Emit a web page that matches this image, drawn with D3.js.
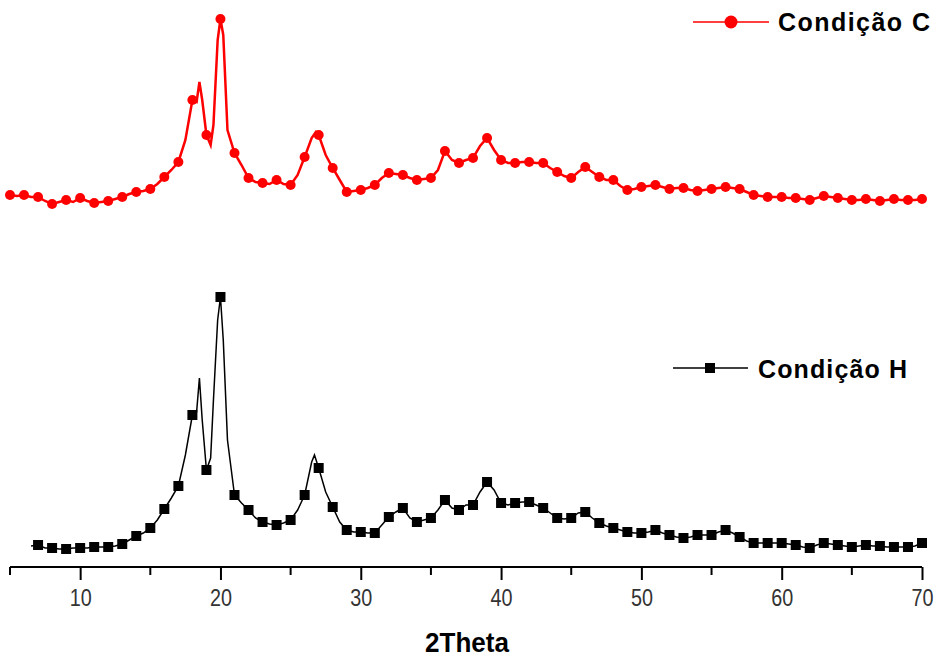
<!DOCTYPE html>
<html>
<head>
<meta charset="utf-8">
<script src="https://cdn.jsdelivr.net/npm/d3@7"></script>
<style>
  body { margin: 0; background: #fff; }
</style>
</head>
<body>
<script>
// 2Theta positions and intensities (a.u.) for each condition
var thetaH = [6.5,7,7.5,8,8.5,9,9.5,10,10.5,11,11.5,12,12.5,13,13.5,14,14.5,15,15.5,16,16.5,17,17.5,18,18.3,18.5,18.7,19,19.3,19.5,19.8,20,20.2,20.5,21,21.5,22,22.5,23,23.5,24,24.5,25,25.5,26,26.5,26.7,27,27.5,28,28.5,29,29.5,30,30.5,31,31.5,32,32.5,33,33.5,34,34.5,35,35.5,36,36.5,37,37.5,38,38.5,39,39.5,40,40.5,41,41.5,42,42.5,43,43.5,44,44.5,45,45.5,46,46.5,47,47.5,48,48.5,49,49.5,50,50.5,51,51.5,52,52.5,53,53.5,54,54.5,55,55.5,56,56.5,57,57.5,58,58.5,59,59.5,60,60.5,61,61.5,62,62.5,63,63.5,64,64.5,65,65.5,66,66.5,67,67.5,68,68.5,69,69.5,70];
var intH = [21,22,19,19,18,18,19,19,19,20,20,20,21,23,27,31,34,39,47,58,69,81,112,152,155,189,147,97,109,167,247,270,227,127,72,64,57,49,45,43,42,44,47,57,72,105,112,99,75,60,45,37,35,35,34,34,42,50,55,59,49,45,47,49,57,67,59,57,62,62,75,85,77,64,62,64,65,65,62,59,54,49,48,49,54,55,49,44,41,39,37,35,34,34,35,37,34,32,30,29,30,32,32,32,35,37,34,30,26,24,24,24,24,24,23,22,20,19,22,24,23,22,21,20,21,22,21,21,20,20,20,20,21,24];

var thetaC = [5,5.5,6,6.5,7,7.5,8,8.5,9,9.5,10,10.5,11,11.5,12,12.5,13,13.5,14,14.5,15,15.5,16,16.5,17,17.5,18,18.3,18.5,18.7,19,19.3,19.5,19.8,20,20.2,20.5,21,21.5,22,22.5,23,23.5,24,24.5,25,25.5,26,26.5,26.8,27,27.5,28,28.5,29,29.5,30,30.5,31,31.5,32,32.5,33,33.5,34,34.5,35,35.5,36,36.5,37,37.5,38,38.5,39,39.5,40,40.5,41,41.5,42,42.5,43,43.5,44,44.5,45,45.5,46,46.5,47,47.5,48,48.5,49,49.5,50,50.5,51,51.5,52,52.5,53,53.5,54,54.5,55,55.5,56,56.5,57,57.5,58,58.5,59,59.5,60,60.5,61,61.5,62,62.5,63,63.5,64,64.5,65,65.5,66,66.5,67,67.5,68,68.5,69,69.5,70];
var intC = [22,21,22,20,20,16,13,15,17,15,19,16,14,15,16,18,20,23,25,26,28,33,40,47,55,77,117,115,135,117,82,72,92,177,198,182,87,64,52,39,35,34,33,37,33,32,42,60,79,85,82,62,49,37,25,26,27,29,32,39,44,43,42,39,37,38,39,47,66,57,54,57,59,71,79,67,57,54,54,55,55,54,54,49,45,41,39,45,50,45,40,37,37,31,27,28,30,31,32,30,28,29,29,27,26,27,28,29,30,29,28,25,22,21,20,20,20,19,19,18,17,19,21,20,19,18,17,17,18,17,16,17,18,17,17,17,18];

var offsetC = 350;   // vertical shift of the stacked pattern C
var xTicks = [10,20,30,40,50,60,70];
var minorTicks = [5,15,25,35,45,55,65];
var seriesNames = ["Condição C", "Condição H"];

var width = 941, height = 662;
var margin = {left: 10, right: 19, top: 17, bottom: 95};

var svg = d3.select("body").append("svg")
    .attr("width", width)
    .attr("height", height);

var x = d3.scaleLinear().domain([5, 70]).range([margin.left, width - margin.right]);
var y = d3.scaleLinear().domain([0, 550]).range([height - margin.bottom, margin.top]);

var dataH = thetaH.map(function (t, i) { return {t: t, v: intH[i]}; });
var dataC = thetaC.map(function (t, i) { return {t: t, v: intC[i] + offsetC}; });

var line = d3.line()
    .x(function (d) { return x(d.t); })
    .y(function (d) { return y(d.v); });

// x axis
var axis = svg.append("g")
    .attr("transform", "translate(0," + y(0) + ")")
    .call(d3.axisBottom(x).tickValues(xTicks).tickSize(13).tickFormat(d3.format("d")));
axis.select(".domain").attr("stroke-width", 2).attr("d", "M" + x(5) + ",0H" + x(70));
axis.selectAll(".tick line").attr("stroke-width", 2);
axis.selectAll(".tick text")
    .attr("y", 39).attr("dy", 0)
    .attr("transform", "scale(0.86,1)")
    .attr("font-family", "'Liberation Sans', Arial, sans-serif")
    .attr("font-size", 23)
    .attr("fill", "#333");

// minor ticks
svg.append("g").selectAll("line")
    .data(minorTicks)
    .enter().append("line")
    .attr("x1", function (d) { return x(d); })
    .attr("x2", function (d) { return x(d); })
    .attr("y1", y(0))
    .attr("y2", y(0) + 8)
    .attr("stroke", "#000")
    .attr("stroke-width", 2);

svg.append("text")
    .attr("x", 425)
    .attr("y", 652)
    .attr("font-family", "'Liberation Sans', Arial, sans-serif")
    .attr("font-weight", "bold")
    .attr("font-size", 27)
    .attr("textLength", 84).attr("lengthAdjust", "spacingAndGlyphs")
    .text("2Theta");

// pattern C (red)
svg.append("path")
    .datum(dataC)
    .attr("fill", "none")
    .attr("stroke", "#ff0000")
    .attr("stroke-width", 2.5)
    .attr("d", line);

svg.selectAll(".dotC")
    .data(dataC.filter(function (d) { return Number.isInteger(d.t); }))
    .enter().append("circle")
    .attr("class", "dotC")
    .attr("cx", function (d) { return x(d.t); })
    .attr("cy", function (d) { return y(d.v); })
    .attr("r", 5)
    .attr("fill", "#ff0000");

// pattern H (black)
svg.append("path")
    .datum(dataH)
    .attr("fill", "none")
    .attr("stroke", "#000")
    .attr("stroke-width", 1.5)
    .attr("d", line);

svg.selectAll(".dotH")
    .data(dataH.filter(function (d) { return Number.isInteger(d.t); }))
    .enter().append("rect")
    .attr("class", "dotH")
    .attr("x", function (d) { return x(d.t) - 5; })
    .attr("y", function (d) { return y(d.v) - 5; })
    .attr("width", 10)
    .attr("height", 10)
    .attr("fill", "#000");

// legends
var legC = svg.append("g").attr("transform", "translate(693,22)");
legC.append("line").attr("x1", 0).attr("x2", 76).attr("stroke", "#ff0000").attr("stroke-width", 1.5);
legC.append("circle").attr("cx", 38).attr("r", 6.5).attr("fill", "#ff0000");
legC.append("text")
    .attr("x", 85).attr("y", 9)
    .attr("font-family", "'Liberation Sans', Arial, sans-serif")
    .attr("font-weight", "bold").attr("font-size", 25)
    .attr("textLength", 152).attr("lengthAdjust", "spacing")
    .text(seriesNames[0]);

var legH = svg.append("g").attr("transform", "translate(673,368)");
legH.append("line").attr("x1", 0).attr("x2", 75).attr("stroke", "#000").attr("stroke-width", 1.5);
legH.append("rect").attr("x", 32).attr("y", -5).attr("width", 10).attr("height", 10).attr("fill", "#000");
legH.append("text")
    .attr("x", 85).attr("y", 10)
    .attr("font-family", "'Liberation Sans', Arial, sans-serif")
    .attr("font-weight", "bold").attr("font-size", 25)
    .attr("textLength", 149).attr("lengthAdjust", "spacing")
    .text(seriesNames[1]);
</script>
</body>
</html>
